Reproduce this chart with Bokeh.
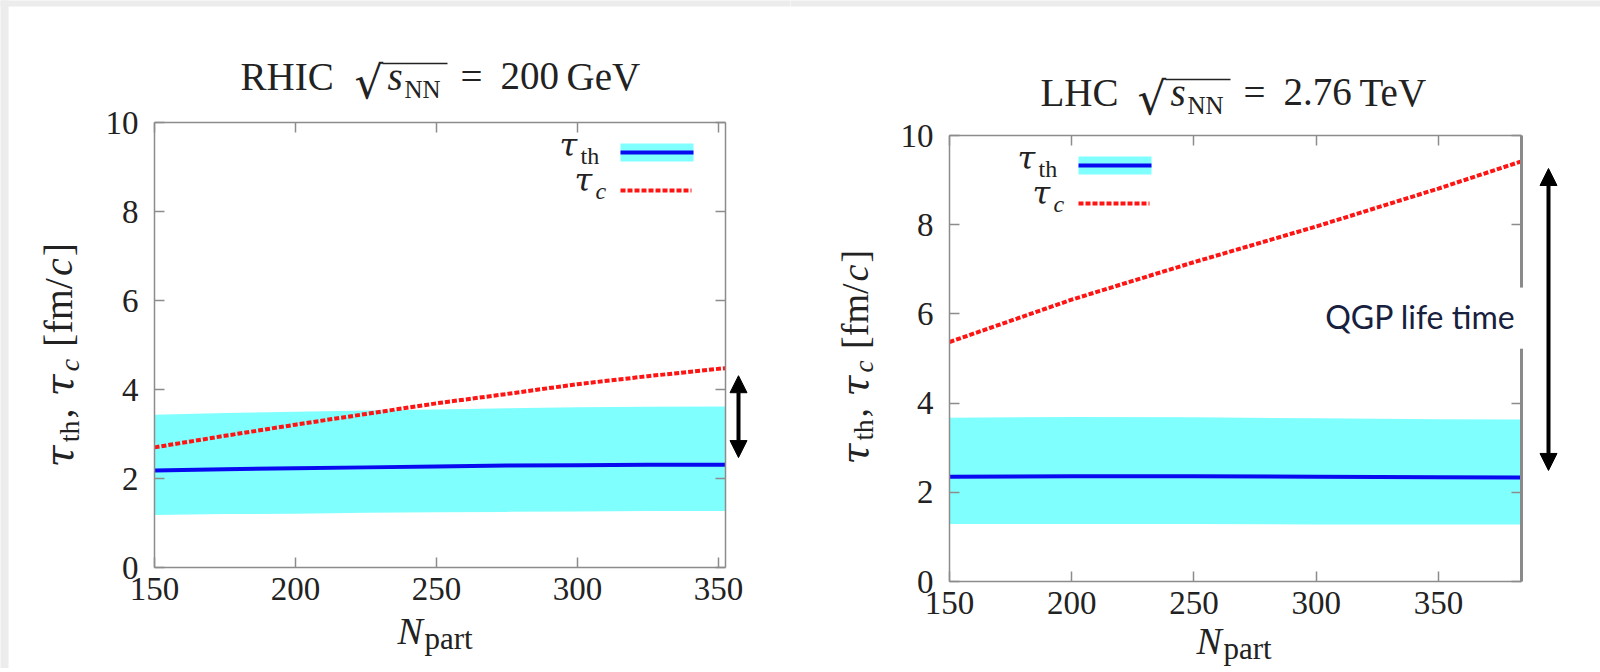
import math
from bokeh.plotting import figure
from bokeh.models import (Range1d, LinearAxis, FixedTicker, CustomJSTickFormatter,
                          Label, Arrow, NormalHead)
from bokeh.layouts import row
from bokeh.embed import file_html
from bokeh.resources import INLINE

# ---------------- data ----------------
npart_rhic = [150, 175, 200, 225, 250, 275, 300, 325, 352.5]
tau_c_rhic = [2.70, 2.96, 3.21, 3.45, 3.69, 3.90, 4.12, 4.30, 4.48]
tau_th_rhic = [2.18, 2.21, 2.23, 2.25, 2.27, 2.29, 2.30, 2.31, 2.31]
tau_th_hi_rhic = [3.43, 3.47, 3.50, 3.53, 3.55, 3.58, 3.60, 3.61, 3.62]
tau_th_lo_rhic = [1.18, 1.20, 1.21, 1.23, 1.24, 1.25, 1.26, 1.27, 1.27]

npart_lhc = [150, 200, 250, 300, 350, 384]
tau_c_lhc = [5.37, 6.32, 7.16, 7.96, 8.81, 9.42]
tau_th_lhc = [2.35, 2.36, 2.36, 2.35, 2.34, 2.33]
tau_th_hi_lhc = [3.67, 3.69, 3.68, 3.66, 3.64, 3.63]
tau_th_lo_lhc = [1.29, 1.29, 1.29, 1.28, 1.28, 1.28]

x_ticks = [150, 200, 250, 300, 350]
y_ticks = [0, 2, 4, 6, 8, 10]
y_ticks_lhc_right = [0, 2, 4, 8, 10]

# x extent of each panel's box
rhic_xlim = [150, 352.5]
lhc_xlim = [150, 384]

# QGP life time arrows (tau range shown by the double arrows)
rhic_arrow_tau = [4.31, 2.47]
lhc_arrow_tau = [9.26, 2.49]
lhc_border_gap = [5.22, 6.59]   # gap in right frame edge around the label

# ---------------- style ----------------
SERIF = "Liberation Serif"
GREEK = "DejaVu Serif"
TXT = "#222222"
FRAME = "#8c8c8c"
CYAN = "#80ffff"
BLUE = "#0a0af0"
RED = "#ff1414"
EDGE = "#ececec"
HC = 668

# approximate advance widths (em) used to chain text pieces
W_ROMAN = {'t': .278, 'h': .5, ',': .25, ' ': .25, '[': .333, 'f': .333, 'm': .778,
           '/': .278, ']': .333, 'p': .5, 'a': .444, 'r': .333, 'N': .722}
W_ITAL = {'c': .444, 's': .389, 'N': .667}
W_TAU = 0.58


def text_width(s, size, italic, font):
    if font == GREEK:
        return W_TAU * size * len(s)
    tab = W_ITAL if italic else W_ROMAN
    return sum(tab.get(ch, 0.5) for ch in s) * size


class Geo:
    """The figure frame covers the whole canvas; the plot box sits at page
    pixels (fl, ft, fw, fh) and shows x in xlim and y in 0..10."""

    def __init__(self, canvas_left, width, fl, ft, fw, fh, xlim):
        self.cl, self.width = canvas_left, width
        self.fl, self.ft, self.fw, self.fh = fl, ft, fw, fh
        self.bx0, self.bx1 = xlim
        self.fb = ft + fh
        self.sx = fw / (self.bx1 - self.bx0)
        self.sy = fh / 10.0

    def X(self, px):
        return self.bx0 + (px - self.fl) / self.sx

    def Y(self, py):
        return (self.fb - py) / self.sy


def add_axis(p, side, loc, bounds, ticks, labels, standoff=0, line=True):
    ax = LinearAxis(fixed_location=loc, bounds=tuple(bounds), ticker=FixedTicker(ticks=ticks))
    ax.major_tick_in = 10
    ax.major_tick_out = 0
    ax.minor_tick_in = 0
    ax.minor_tick_out = 0
    ax.axis_line_color = FRAME if line else None
    ax.axis_line_width = 1.5
    ax.major_tick_line_color = FRAME
    ax.major_tick_line_width = 1.5
    ax.major_label_text_font = SERIF
    ax.major_label_text_font_size = "33px"
    ax.major_label_text_color = TXT
    ax.major_label_standoff = standoff
    if not labels:
        ax.formatter = CustomJSTickFormatter(code="return ''")
    p.add_layout(ax, side)
    return ax


def make_fig(g, right_line=True, right_ticks=None, left_edge=False):
    p = figure(width=g.width, height=HC,
               x_range=Range1d(g.X(g.cl), g.X(g.cl + g.width)),
               y_range=Range1d(g.Y(HC), g.Y(0)),
               x_axis_location=None, y_axis_location=None,
               output_backend="svg", toolbar_location=None,
               min_border=0, min_border_left=0, min_border_right=0,
               min_border_top=0, min_border_bottom=0,
               background_fill_color="white", border_fill_color="white",
               outline_line_color=None)
    p.title.visible = False
    p.grid.visible = False
    # light page edge of the original screenshot
    p.quad(left=g.X(g.cl - 3), right=g.X(g.cl + g.width + 3), top=g.Y(-3), bottom=g.Y(6),
           fill_color=EDGE, line_color=None)
    if left_edge:
        p.quad(left=g.X(g.cl - 3), right=g.X(g.cl + 8), top=g.Y(-3), bottom=g.Y(HC + 3),
               fill_color=EDGE, line_color=None)
    xb = (g.bx0, g.bx1)
    add_axis(p, "below", 0, xb, x_ticks, True, 10)
    add_axis(p, "above", 10, xb, x_ticks, False)
    add_axis(p, "left", g.bx0, (0, 10), y_ticks, True, 16)
    add_axis(p, "right", g.bx1, (0, 10), right_ticks or y_ticks, False, line=right_line)
    return p


def txt(p, g, s, px, py, size, italic=False, angle=0.0, align="left",
        font=SERIF, color=TXT):
    # (px, py): page position of the text's baseline start
    k = (0.39 if font == "Lato" else 0.34) * size
    if angle == 0.0:
        py = py - k
    else:
        px = px - k
    p.add_layout(Label(x=g.X(px), y=g.Y(py), text=s, text_font=font,
                       text_font_size=f"{size}px",
                       text_font_style="italic" if italic else "normal",
                       text_color=color, text_align=align,
                       text_baseline="alphabetic", angle=angle))


def hline(p, g, px0, px1, py, width, color):
    p.add_layout(Arrow(x_start=g.X(px0), y_start=g.Y(py), x_end=g.X(px1), y_end=g.Y(py),
                       start=None, end=None, line_color=color, line_width=width))


def darrow(p, g, px, taus, head):
    xs = g.X(px)
    top, bot = taus
    mk = lambda: NormalHead(size=head, fill_color="black", line_color="black", line_width=1)
    p.add_layout(Arrow(x_start=xs, y_start=bot, x_end=xs, y_end=top,
                       start=mk(), end=mk(), line_color="black", line_width=4))


def legend(p, g, bx, by):
    p.quad(left=g.X(bx), right=g.X(bx + 73), top=g.Y(by), bottom=g.Y(by + 18),
           fill_color=CYAN, line_color=None)
    p.line([g.X(bx), g.X(bx + 73)], [g.Y(by + 9)] * 2, line_color=BLUE, line_width=4)
    p.line([g.X(bx), g.X(bx + 71)], [g.Y(by + 47)] * 2, line_color=RED, line_width=4,
           line_dash="5 2")
    txt(p, g, "τ", bx - 61, by + 12, 32, italic=True, font=GREEK)
    txt(p, g, "th", bx - 40, by + 21, 24)
    txt(p, g, "τ", bx - 46, by + 47, 32, italic=True, font=GREEK)
    txt(p, g, "c", bx - 25, by + 56, 24, italic=True)


def ylabel(p, g, bx, by, M, S, gap):
    # pieces: text, size, italic, font, subscript?, extra advance (em of M)
    pieces = [("τ", M, True, GREEK, False, 0.0), ("th", S, False, SERIF, True, 0.0),
              (",", M, False, SERIF, False, 0.25), ("τ", M, True, GREEK, False, 0.0),
              ("c", S, True, SERIF, True, 0.25), ("[fm/", M, False, SERIF, False, 0.0),
              ("c", M, True, SERIF, False, 0.0), ("]", M, False, SERIF, False, 0.0)]
    y = by
    for s, size, it, font, sub, extra in pieces:
        txt(p, g, s, bx + (0.16 * M if sub else 0), y, size, italic=it,
            angle=math.pi / 2, font=font)
        y -= text_width(s, size, it, font) + extra * M + gap


def xlabel(p, g, x, base):
    txt(p, g, "N", x, base, 38, italic=True)
    txt(p, g, "part", x + 27, base + 6, 31)


def title(p, g, base, name, name_x, sq_x, value, unit, unit_x):
    over0 = sq_x + 28
    over1 = over0 + 65
    txt(p, g, name, name_x, base, 39)
    txt(p, g, "√", sq_x, base + 8, 45, font=GREEK)
    hline(p, g, over0, over1, base - 26, 1.6, TXT)
    txt(p, g, "s", over0 + 5, base, 39, italic=True)
    txt(p, g, "NN", over0 + 22, base + 8, 25)
    txt(p, g, "=", over1 + 13, base, 39)
    txt(p, g, value, over1 + 53, base, 39)
    txt(p, g, unit, unit_x, base, 39)


# ---------------- left panel: RHIC ----------------
W1, W2 = 790, 810
gL = Geo(0, W1, 154, 122, 571, 445, rhic_xlim)
p1 = make_fig(gL, left_edge=True)

p1.varea(x=npart_rhic, y1=tau_th_lo_rhic, y2=tau_th_hi_rhic, fill_color=CYAN)
p1.line(npart_rhic, tau_th_rhic, line_color=BLUE, line_width=4)
p1.line(npart_rhic, tau_c_rhic, line_color=RED, line_width=4, line_dash="5 2")
legend(p1, gL, 620, 143)

title(p1, gL, 89, "RHIC", 240, 354, "200", "GeV", 566)
xlabel(p1, gL, 397, 643)
ylabel(p1, gL, 72, 467, 40, 28, 2)
darrow(p1, gL, 738, rhic_arrow_tau, 17)

# ---------------- right panel: LHC ----------------
gR = Geo(W1, W2, 949, 135, 572, 446, lhc_xlim)
p2 = make_fig(gR, right_line=False, right_ticks=y_ticks_lhc_right)

p2.varea(x=npart_lhc, y1=tau_th_lo_lhc, y2=tau_th_hi_lhc, fill_color=CYAN)
p2.line(npart_lhc, tau_th_lhc, line_color=BLUE, line_width=4)
p2.line(npart_lhc, tau_c_lhc, line_color=RED, line_width=4, line_dash="5 2")
legend(p2, gR, 1078, 156)

# broken right frame edge
p2.segment(x0=[gR.bx1, gR.bx1], y0=[0, lhc_border_gap[1]],
           x1=[gR.bx1, gR.bx1], y1=[lhc_border_gap[0], 10],
           line_color="#8a8a8a", line_width=3)

title(p2, gR, 105, "LHC", 1040, 1137, "2.76", "TeV", 1359)
xlabel(p2, gR, 1196, 653)
ylabel(p2, gR, 867, 464, 38, 27, 2)
darrow(p2, gR, 1548, lhc_arrow_tau, 17)
txt(p2, gR, "QGP life time", 1515, 328, 32, align="right", font="Lato", color="#17203d")

layout = row(p1, p2)
open("out.html", "w").write(file_html(layout, INLINE))
